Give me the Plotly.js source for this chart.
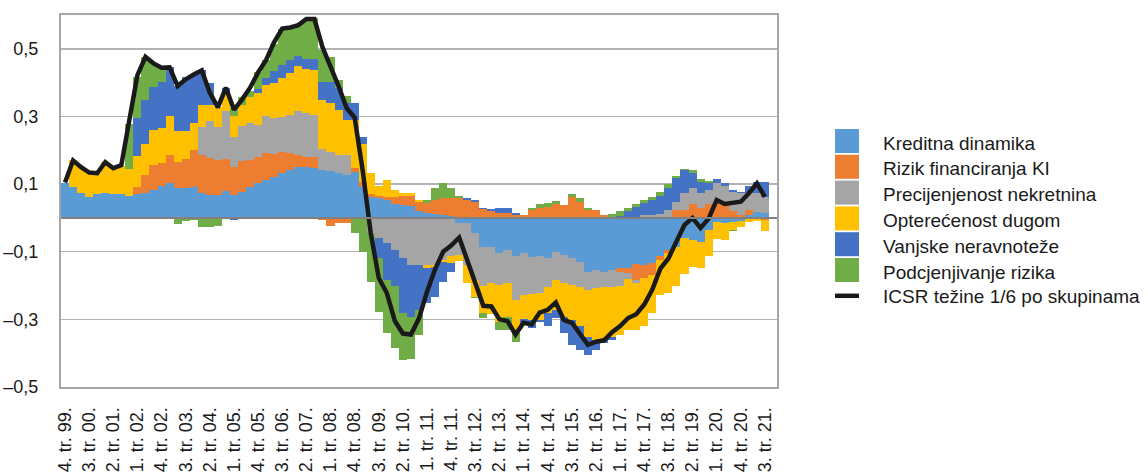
<!DOCTYPE html>
<html>
<head>
<meta charset="utf-8">
<script src="https://cdn.plot.ly/plotly-3.0.1.min.js"></script>
<style>html,body{margin:0;padding:0;background:#fff;}#chart{width:1148px;height:475px;}</style>
</head>
<body>
<div id="chart"></div>
<script>
// Quarterly categories: 4. tr. 99. ... 3. tr. 21.
const categories = [];
for (let i = 0; i < 88; i++) {
  const q = ((3 + i) % 4) + 1;
  const yr = 1999 + Math.floor((3 + i) / 4);
  categories.push(q + '. tr. ' + String(yr % 100).padStart(2, '0') + '.');
}
const seriesNames = ['Kreditna dinamika', 'Rizik financiranja KI', 'Precijenjenost nekretnina',
  'Opterećenost dugom', 'Vanjske neravnoteže', 'Podcjenjivanje rizika'];
const lineName = 'ICSR težine 1/6 po skupinama';
const seriesColors = ['#5b9bd5', '#ed7d31', '#a5a5a5', '#ffc000', '#4472c4', '#70ad47'];

const kreditna = [0.104,0.09,0.075,0.062,0.07,0.074,0.07,0.07,0.066,0.072,
  0.075,0.083,0.093,0.102,0.088,0.089,0.09,0.073,0.068,0.068,
  0.081,0.068,0.078,0.091,0.103,0.112,0.12,0.132,0.142,0.15,
  0.152,0.147,0.142,0.14,0.132,0.127,0.137,0.09,0.063,0.058,
  0.053,0.04,0.038,0.034,0.02,0.014,0.012,0.008,0.006,-0.016,
  -0.016,-0.045,-0.085,-0.087,-0.103,-0.095,-0.114,-0.103,-0.116,-0.112,
  -0.119,-0.1,-0.109,-0.119,-0.129,-0.159,-0.154,-0.159,-0.154,-0.149,
  -0.149,-0.136,-0.139,-0.134,-0.114,-0.095,-0.085,-0.06,-0.065,-0.07,
  -0.036,-0.011,-0.014,-0.011,-0.008,0.009,0.017,0.016];
const rizik = [0,0,0,0,0,0,0,0,0,0.018,
  0.052,0.073,0.069,0.085,0.078,0.085,0.11,0.113,0.109,0.104,
  0.093,0.082,0.089,0.081,0.078,0.079,0.069,0.064,0.051,0.036,
  0.029,0.033,-0.006,-0.024,-0.016,-0.015,0.01,0.015,0.007,0.007,
  0.01,0.023,0.027,0.031,0.028,0.029,0.041,0.05,0.052,0.058,
  0.053,0.048,0.026,0.019,0.016,0.016,0.009,0.009,0.024,0.029,
  0.032,0.041,0.038,0.061,0.048,0.022,0.022,0.009,0,-0.01,
  -0.015,-0.047,-0.039,-0.036,-0.011,-0.01,0.022,0.024,0.041,0.029,
  0.041,0.043,0.041,0.02,0.01,0.013,0,-0.005];
const precijenjenost = [0,0,0,0,0,0,0,0,0,0,
  0,0,0,0,0,0,0,0.084,0.111,0.098,
  0.141,0.09,0.105,0.108,0.094,0.111,0.106,0.102,0.112,0.129,
  0.129,0.125,0.061,0.056,0.054,0.059,0,0,-0.045,-0.06,
  -0.075,-0.095,-0.12,-0.139,-0.139,-0.139,-0.139,-0.124,-0.114,-0.094,
  -0.123,-0.138,-0.115,-0.106,-0.095,-0.098,-0.129,-0.125,-0.109,-0.109,
  -0.084,-0.083,-0.084,-0.079,-0.074,-0.054,-0.054,-0.044,-0.049,-0.041,
  -0.016,-0.008,0.01,0.01,0.012,0.022,0.026,0.051,0.047,0.046,
  0.042,0.06,0.052,0.058,0.063,0.051,0.058,0.047];
const opterecenost = [0,0.08,0.077,0.072,0.062,0.091,0.077,0.084,0.078,0.092,
  0.093,0.105,0.103,0.115,0.091,0.084,0.08,0.065,0.046,0.058,
  0.05,0.06,0.062,0.079,0.095,0.091,0.103,0.115,0.123,0.133,
  0.13,0.131,0.146,0.143,0.134,0.104,0.143,0.115,0.062,0.028,
  0.049,0.02,0.008,0.008,0.005,-0.01,-0.005,-0.006,-0.02,-0.018,
  -0.054,-0.05,-0.082,-0.092,-0.109,-0.099,-0.098,-0.072,-0.077,-0.081,
  -0.079,-0.089,-0.099,-0.104,-0.118,-0.138,-0.153,-0.158,-0.148,-0.146,
  -0.151,-0.14,-0.142,-0.112,-0.103,-0.118,-0.115,-0.106,-0.079,-0.079,
  -0.078,-0.052,-0.051,-0.025,-0.02,-0.011,-0.008,-0.035];
const vanjske = [0,0,0,0,0,0,0,0,0,0.112,
  0.13,0.127,0.138,0.143,0.133,0.159,0.147,0.102,0.066,0,
  0.02,-0.005,0,0,0.01,0.02,0.035,0.04,0.039,0.031,
  0.029,0.033,0.054,0.064,0.064,0.05,0.05,0.02,0,-0.06,
  -0.108,-0.105,-0.162,-0.153,-0.133,-0.103,-0.09,-0.06,-0.026,0,
  0.005,0.005,0.004,0.007,0.013,0.013,0.005,-0.018,-0.024,-0.005,
  -0.039,-0.025,-0.049,-0.074,-0.069,-0.054,-0.029,-0.01,-0.009,0.005,
  0.02,0.032,0.033,0.043,0.053,0.066,0.07,0.067,0.044,0.03,
  0.02,0.011,0.01,0.005,0.005,0.02,0.03,0.042];
const podcjenjivanje = [0,0,0,0,0,0,0,0,0.135,0.123,
  0.126,0.07,0.042,0,-0.017,-0.01,-0.006,-0.027,-0.027,-0.025,
  0,0.025,0.025,0.015,0.05,0.054,0.08,0.105,0.095,0.09,
  0.12,0.123,0.094,0.072,0.024,0.02,-0.045,-0.1,-0.145,-0.157,
  -0.157,-0.186,-0.138,-0.126,-0.074,0.01,0.035,0.045,0.03,0.007,
  0,-0.005,-0.015,0,-0.024,-0.038,-0.025,0,0.005,0.011,
  0.013,0.009,0,0.01,0.01,0.007,0.002,0,0.012,0.014,
  0.009,0.008,0.01,0.01,0.013,0.012,0.006,0.003,0.01,0.009,
  0.007,0,0,-0.004,0,0,0,0];
const icsr = [0.105,0.17,0.15,0.134,0.132,0.165,0.147,0.156,0.29,0.422,
  0.476,0.457,0.444,0.445,0.39,0.41,0.424,0.436,0.37,0.327,
  0.385,0.32,0.35,0.385,0.43,0.467,0.52,0.56,0.563,0.57,
  0.588,0.588,0.505,0.45,0.39,0.325,0.297,0.14,-0.045,-0.178,
  -0.222,-0.305,-0.342,-0.345,-0.297,-0.218,-0.152,-0.1,-0.082,-0.058,
  -0.124,-0.185,-0.26,-0.262,-0.3,-0.305,-0.345,-0.31,-0.315,-0.28,
  -0.272,-0.25,-0.302,-0.31,-0.345,-0.375,-0.366,-0.362,-0.338,-0.32,
  -0.296,-0.285,-0.256,-0.212,-0.15,-0.12,-0.07,-0.021,0.0,-0.03,
  -0.002,0.053,0.041,0.044,0.048,0.073,0.102,0.062];

const seriesValues = [kreditna, rizik, precijenjenost, opterecenost, vanjske, podcjenjivanje];
const yTickVals = [-0.5, -0.3, -0.1, 0.1, 0.3, 0.5];
const yTickText = ['\u20130,5', '\u20130,3', '\u20130,1', '0,1', '0,3', '0,5'];
const xTickVals = categories.filter((c, i) => i % 3 === 0);

const FONT = 'Liberation Sans, Arial, sans-serif';
const traces = seriesValues.map((vals, k) => ({
  type: 'bar', x: categories, y: vals, name: seriesNames[k],
  marker: {color: seriesColors[k], line: {width: 0}},
  showlegend: false, hoverinfo: 'skip'
}));
traces.push({
  type: 'scatter', mode: 'lines', x: categories, y: icsr, name: lineName,
  line: {color: '#1a1a1a', width: 4.5}, showlegend: false, hoverinfo: 'skip'
});

// Plot geometry (pixels)
const W = 1148, H = 475, ML = 61, MR = 371, MT = 15, MB = 88;
const PW = W - ML - MR, PH = H - MT - MB;
const px2x = px => (px - ML) / PW;
const px2y = py => (H - MB - py) / PH;

const shapes = [{type: 'line', xref: 'paper', yref: 'y', x0: 0, x1: 1, y0: 0, y1: 0,
  line: {color: '#808080', width: 2}, layer: 'above'}];
const annotations = [];
const step = 25.8;
seriesNames.forEach((n, k) => {
  const top = 129 + step * k;
  shapes.push({type: 'rect', xref: 'paper', yref: 'paper',
    x0: px2x(835), x1: px2x(859), y0: px2y(top + 24), y1: px2y(top),
    fillcolor: seriesColors[k], line: {width: 0}});
  annotations.push({xref: 'paper', yref: 'paper', x: px2x(881), y: px2y(top + 14),
    xanchor: 'left', yanchor: 'middle', text: n, showarrow: false,
    font: {family: FONT, size: 19, color: '#1a1a1a'}});
});
{
  const cy = 129 + step * 6 + 12;
  shapes.push({type: 'line', xref: 'paper', yref: 'paper',
    x0: px2x(835), x1: px2x(859), y0: px2y(cy), y1: px2y(cy),
    line: {color: '#1a1a1a', width: 4.5}});
  annotations.push({xref: 'paper', yref: 'paper', x: px2x(881), y: px2y(cy + 1),
    xanchor: 'left', yanchor: 'middle', text: lineName, showarrow: false,
    font: {family: FONT, size: 19, color: '#1a1a1a'}});
}

const layout = {
  width: W, height: H,
  margin: {l: ML, r: MR, t: MT, b: MB, pad: 0},
  paper_bgcolor: '#ffffff', plot_bgcolor: '#ffffff',
  barmode: 'relative', bargap: 0,
  font: {family: FONT, size: 18, color: '#1a1a1a'},
  showlegend: false,
  xaxis: {
    type: 'category', range: [-0.5, 88.5], tickmode: 'array',
    tickvals: xTickVals, ticktext: xTickVals, tickangle: -90,
    showgrid: false, zeroline: false, ticks: '', automargin: false,
    showline: true, mirror: true, linecolor: '#a6a6a6', linewidth: 2,
    ticklabelstandoff: 11, tickfont: {family: FONT, size: 18, color: '#1a1a1a'}
  },
  yaxis: {
    range: [-0.5, 0.6], tickmode: 'array', tickvals: yTickVals, ticktext: yTickText,
    showgrid: true, gridcolor: '#b3b3b3', gridwidth: 1.5, zeroline: false,
    ticks: '', automargin: false,
    showline: true, mirror: true, linecolor: '#a6a6a6', linewidth: 2,
    ticklabelstandoff: 17, tickfont: {family: FONT, size: 18, color: '#1a1a1a'}
  },
  shapes: shapes, annotations: annotations
};

Plotly.newPlot('chart', traces, layout, {staticPlot: true, displayModeBar: false});
</script>
</body>
</html>
